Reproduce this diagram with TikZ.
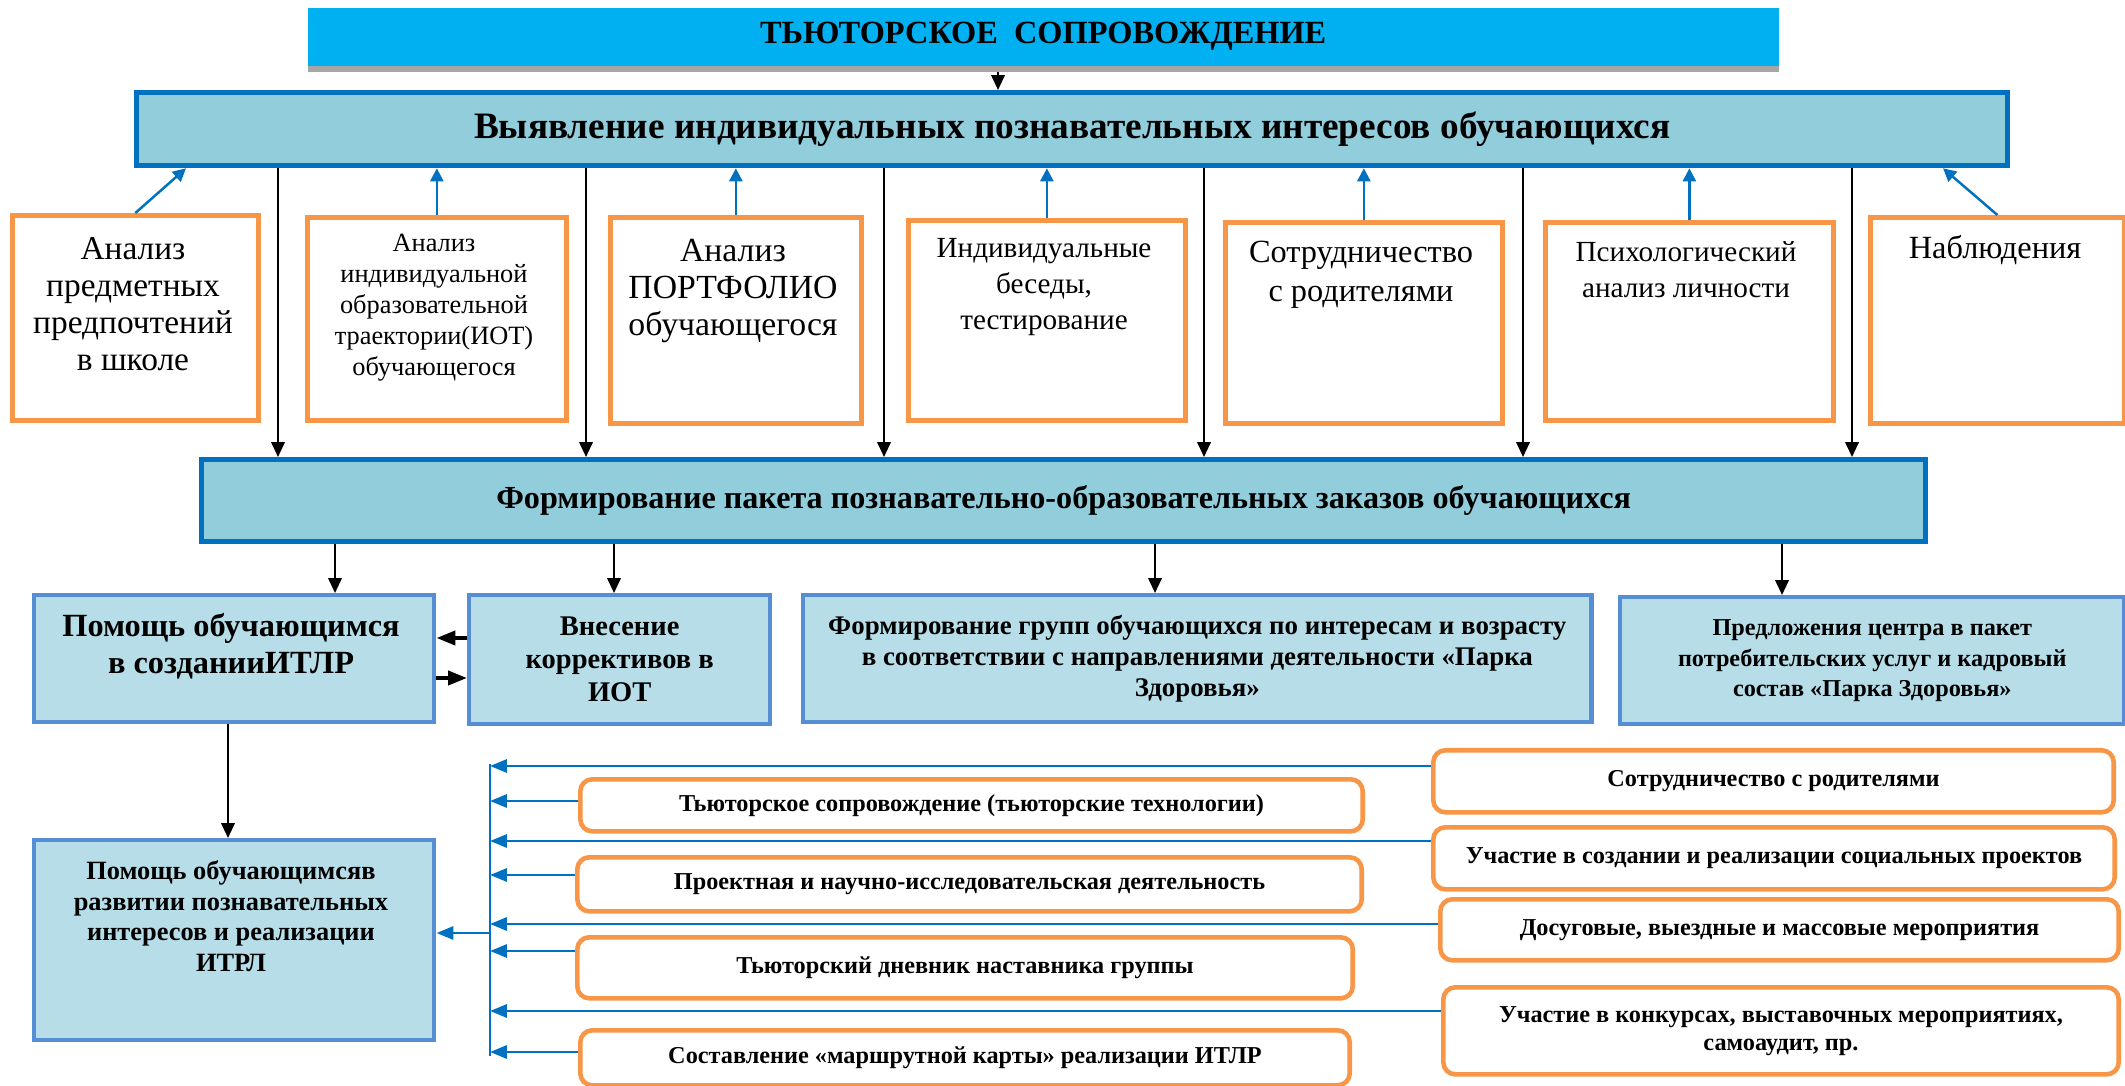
\documentclass[tikz,border=0pt]{standalone}
\usepackage{fontspec}
\setmainfont{Liberation Serif}
\usetikzlibrary{positioning}
\usetikzlibrary{arrows.meta,shadows}
\definecolor{titleblue}{HTML}{00B0F0}
\definecolor{shadowgray}{HTML}{A6A6A6}
\definecolor{darkblue}{HTML}{0070C0}
\definecolor{tealfill}{HTML}{92CDDC}
\definecolor{paleblue}{HTML}{B7DEE8}
\definecolor{midblue}{HTML}{558ED5}
\definecolor{orangeline}{HTML}{F79646}
\tikzset{%
  titlebox/.style = {fill=titleblue, anchor=north west, inner sep=0pt,
    general shadow={fill=shadowgray, shadow xshift=0pt, shadow yshift=-0.6mm},
    font=\bfseries\fontsize{9.2}{11}\selectfont},
  mainbox/.style  = {draw=darkblue, line width=1.5pt, fill=tealfill,
    anchor=north west, inner sep=0pt},
  srcbox/.style   = {draw=orangeline, line width=1.3pt, fill=white,
    anchor=north west, inner sep=0pt}, % source of interests
  srctext/.style  = {align=center, inner sep=0pt},
  helpbox/.style  = {draw=midblue, line width=1.2pt, fill=paleblue,
    anchor=north west, inner sep=0pt, align=center},
  helptext/.style = {align=center, inner sep=0pt, font=\bfseries},
  formbox/.style  = {draw=orangeline, line width=1.3pt, rounded corners=1.2mm,
    fill=white, anchor=north west, inner sep=0pt, align=center,
    font=\bfseries\fontsize{6.9}{8}\selectfont}, % forms of work
  toform/.style   = {-{Triangle[length=4.2pt,width=3.8pt]}, line width=0.6pt},
  toid/.style     = {-{Triangle[length=3.7pt,width=3.7pt]}, line width=0.7pt, darkblue},
  feed/.style     = {-{Triangle[length=4.8pt,width=3.7pt]}, line width=0.8pt, darkblue},
  pairarrow/.style = {-{Triangle[length=5.4pt,width=4pt]}, line width=1.1pt}
}
\begin{document}
\begin{tikzpicture}[x=0.01cm, y=-0.01cm]
  \useasboundingbox (0,0) rectangle (2125,1086);

  \draw node at (307,7) [titlebox, minimum width=147mm, minimum height=5.8mm] (title) {ТЬЮТОРСКОЕ\ \ СОПРОВОЖДЕНИЕ};
  \draw node at (134,90) [mainbox, minimum width=187mm, minimum height=7.3mm,
    font=\bfseries\fontsize{10.6}{13}\selectfont] (vyav) {Выявление индивидуальных познавательных интересов обучающихся};

  % sources
  \draw node at (10,213) [srcbox, minimum width=24.6mm, minimum height=20.5mm] (src1) {};
  \draw node at (305,215) [srcbox, minimum width=25.9mm, minimum height=20.3mm] (src2) {};
  \draw node at (608,215) [srcbox, minimum width=25.1mm, minimum height=20.6mm] (src3) {};
  \draw node at (906,218) [srcbox, minimum width=27.7mm, minimum height=20mm] (src4) {};
  \draw node at (1223,220) [srcbox, minimum width=27.7mm, minimum height=20.1mm] (src5) {};
  \draw node at (1543,220) [srcbox, minimum width=28.8mm, minimum height=19.8mm] (src6) {};
  \draw node at (1868,215) [srcbox, minimum width=25.4mm, minimum height=20.6mm] (src7) {};

  \draw node at (133,304) [srctext, font=\fontsize{9.5}{10.5}\selectfont] (src1t) {Анализ\\предметных\\предпочтений\\в школе};
  \draw node at (434,308) [srctext, font=\fontsize{7.5}{8.8}\selectfont] (src2t) {Анализ\\индивидуальной\\образовательной\\траектории(ИОТ)\\обучающегося};
  \draw node at (733,291) [srctext, font=\fontsize{9.6}{10.4}\selectfont] (src3t) {Анализ\\ПОРТФОЛИО\\обучающегося};
  \draw node at (1044,287) [srctext, font=\fontsize{8.3}{10.2}\selectfont] (src4t) {Индивидуальные\\беседы,\\тестирование};
  \draw node at (1361,275) [srctext, font=\fontsize{9.2}{11}\selectfont] (src5t) {Сотрудничество\\с родителями};
  \draw node at (1686,270) [srctext, font=\fontsize{8.3}{10.2}\selectfont] (src6t) {Психологический\\анализ личности};
  \draw node at (1995,250) [srctext, font=\fontsize{9.2}{11}\selectfont] (src7t) {Наблюдения};

  \draw node at (199,457) [mainbox, minimum width=172.3mm, minimum height=8.2mm,
    font=\bfseries\fontsize{9.15}{11}\selectfont] (form) {Формирование пакета познавательно-образовательных заказов обучающихся};

  % help blocks
  \draw node at (32,593) [helpbox, minimum width=40mm, minimum height=12.7mm] (helpA) {};
  \draw node at (231,646) [helptext, font=\bfseries\fontsize{9.2}{10.5}\selectfont] (helpAt) {Помощь обучающимся\\в созданииИТЛР};
  \draw node at (467,593) [helpbox, minimum width=30.1mm, minimum height=12.9mm,
    font=\bfseries\fontsize{8.1}{9.4}\selectfont] (helpB) {Внесение\\коррективов в\\ИОТ};
  \draw node at (801,593) [helpbox, minimum width=78.8mm, minimum height=12.7mm,
    font=\bfseries\fontsize{7.65}{8.8}\selectfont] (helpC) {Формирование групп обучающихся по интересам и возрасту\\в соответствии с направлениями деятельности «Парка\\Здоровья»};
  \draw node at (1618,595) [helpbox, minimum width=50.4mm, minimum height=12.7mm,
    font=\bfseries\fontsize{6.9}{8.7}\selectfont] (helpD) {Предложения центра в пакет\\потребительских услуг и кадровый\\состав «Парка Здоровья»};
  \draw node at (32,838) [helpbox, minimum width=40mm, minimum height=20mm] (helpE) {};
  \draw node at (231,916) [helptext, font=\bfseries\fontsize{7.5}{8.7}\selectfont] (helpEt) {Помощь обучающимсяв\\развитии познавательных\\интересов и реализации\\ИТРЛ};

  % forms of work
  \draw node at (578,777) [formbox, minimum width=78.2mm, minimum height=5.2mm] (tutor1) {Тьюторское сопровождение (тьюторские технологии)};
  \draw node at (575,855) [formbox, minimum width=78.4mm, minimum height=5.4mm] (tutor2) {Проектная и научно-исследовательская деятельность};
  \draw node at (575,935) [formbox, minimum width=77.5mm, minimum height=6.1mm] (tutor3) {Тьюторский дневник наставника группы};
  \draw node at (578,1028) [formbox, minimum width=76.9mm, minimum height=5.5mm] (tutor4) {Составление «маршрутной карты» реализации ИТЛР};
  \draw node at (1431,748) [formbox, minimum width=68mm, minimum height=6.2mm] (extra1) {Сотрудничество с родителями};
  \draw node at (1431,825) [formbox, minimum width=68.1mm, minimum height=6.2mm] (extra2) {Участие в создании и реализации социальных проектов};
  \draw node at (1438,897) [formbox, minimum width=67.8mm, minimum height=6.1mm] (extra3) {Досуговые, выездные и массовые мероприятия};
  \draw node at (1441,985) [formbox, minimum width=67.5mm, minimum height=8.7mm,
    font=\bfseries\fontsize{6.9}{8}\selectfont] (extra4) {Участие в конкурсах, выставочных мероприятиях,\\самоаудит, пр.};

  % connectors
  \coordinate (t0) at (998,0);
  \draw[toform] (title.south -| t0) ++(0,6) -- (vyav.north -| t0);

  \coordinate (u1) at (186,0);
  \coordinate (u7) at (1943,0);
  \draw[toid] (src1.north) -- (vyav.south -| u1);
  \draw[toid] (src2.north) -- (vyav.south -| src2.north);
  \draw[toid] (src3.north) -- (vyav.south -| src3.north);
  \draw[toid] (src4.north) -- (vyav.south -| src4.north);
  \draw[toid] (src5.north) -- (vyav.south -| src5.north);
  \draw[toid] (src6.north) -- (vyav.south -| src6.north);
  \draw[toid] (src7.north) -- (vyav.south -| u7);

  \coordinate (g1) at (278,0);
  \coordinate (g2) at (586,0);
  \coordinate (g3) at (884,0);
  \coordinate (g4) at (1204,0);
  \coordinate (g5) at (1523,0);
  \coordinate (g6) at (1852,0);
  \draw[toform] (vyav.south -| g1) -- (form.north -| g1);
  \draw[toform] (vyav.south -| g2) -- (form.north -| g2);
  \draw[toform] (vyav.south -| g3) -- (form.north -| g3);
  \draw[toform] (vyav.south -| g4) -- (form.north -| g4);
  \draw[toform] (vyav.south -| g5) -- (form.north -| g5);
  \draw[toform] (vyav.south -| g6) -- (form.north -| g6);

  \coordinate (h1) at (335,0);
  \coordinate (h2) at (614,0);
  \coordinate (h3) at (1155,0);
  \coordinate (h4) at (1782,0);
  \draw[toform] (form.south -| h1) -- (helpA.north -| h1);
  \draw[toform] (form.south -| h2) -- (helpB.north -| h2);
  \draw[toform] (form.south -| h3) -- (helpC.north -| h3);
  \draw[toform] (form.south -| h4) -- (helpD.north -| h4);

  \coordinate (s1) at (0,638);
  \coordinate (s2) at (0,678);
  \draw[pairarrow] (helpB.west |- s1) -- (helpA.east |- s1);
  \draw[pairarrow] (helpA.east |- s2) -- (helpB.west |- s2);

  \coordinate (e0) at (228,0);
  \draw[toform] (helpA.south -| e0) -- (helpE.north -| e0);

  % bus to the help block
  \coordinate (bustop) at (490,764);
  \coordinate (busend) at (490,1056);
  \coordinate (b0) at (490,933);
  \coordinate (b1) at (490,766);
  \coordinate (b2) at (490,801);
  \coordinate (b3) at (490,841);
  \coordinate (b4) at (490,875);
  \coordinate (b5) at (490,924);
  \coordinate (b6) at (490,951);
  \coordinate (b7) at (490,1011);
  \coordinate (b8) at (490,1052);
  \draw[line width=0.8pt, darkblue] (bustop) -- (busend);
  \draw[feed] (extra1.west |- b1) -- (b1);
  \draw[feed] (tutor1.west |- b2) -- (b2);
  \draw[feed] (extra2.west |- b3) -- (b3);
  \draw[feed] (tutor2.west |- b4) -- (b4);
  \draw[feed] (extra3.west |- b5) -- (b5);
  \draw[feed] (tutor3.west |- b6) -- (b6);
  \draw[feed] (extra4.west |- b7) -- (b7);
  \draw[feed] (tutor4.west |- b8) -- (b8);
  \draw[feed] (b0) -- (helpE.east |- b0);

\end{tikzpicture}
\end{document}
